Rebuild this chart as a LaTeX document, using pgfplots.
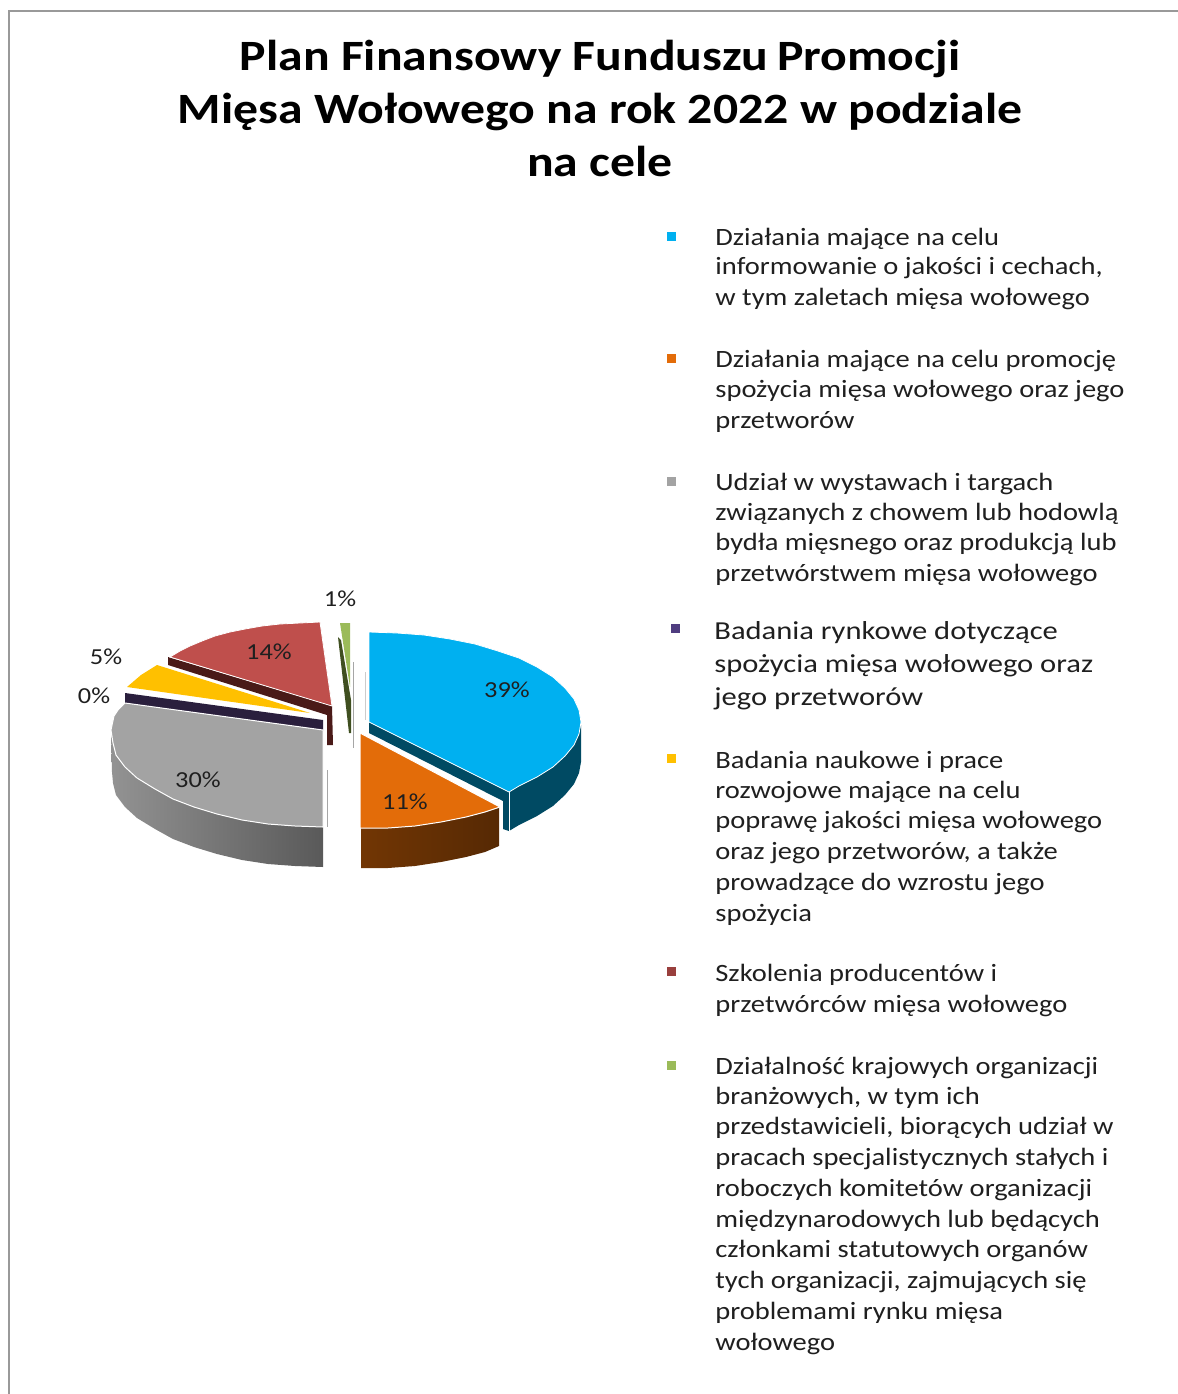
\documentclass[border=0pt]{standalone}
\usepackage{fontspec}
\setmainfont{Carlito}
\usepackage{graphicx}
\usepackage{pgfplots}
\pgfplotsset{compat=1.18}
\definecolor{cblue}{HTML}{00B0F0}
\definecolor{cblued}{HTML}{004A63}
\definecolor{corange}{HTML}{E36C09}
\definecolor{cgrey}{HTML}{A3A3A3}
\definecolor{cpurple}{HTML}{2A1F3D}
\definecolor{ckeypurple}{HTML}{4F3D80}
\definecolor{cyellow}{HTML}{FFC000}
\definecolor{cred}{HTML}{BF4F4C}
\definecolor{credd}{HTML}{4A1A18}
\definecolor{cgreen}{HTML}{9BBB59}
\definecolor{cgreend}{HTML}{3F4F20}
\definecolor{txt}{HTML}{1F1F1F}
\newcommand\ttl[2]{\node[anchor=base,font=\fontsize{21.7}{26}\bfseries\selectfont] at (axis cs:600,#1) {\scalebox{1.15}[1]{#2}};}
\newcommand\leg[2]{\node[anchor=base west,inner sep=0pt,text=txt,font=\fontsize{12.5}{15}\selectfont] at (axis cs:715,#1) {\scalebox{1.145}[1]{#2}};}
\newcommand\legw[2]{\node[anchor=base west,inner sep=0pt,text=txt,font=\fontsize{13}{15}\selectfont] at (axis cs:714,#1) {\scalebox{1.18}[1]{#2}};}
\newcommand\pct[2]{\node[text=txt,inner sep=0pt,font=\fontsize{11.5}{14}\selectfont] at (axis cs:#1) {\scalebox{1.15}[1]{#2}};}
\begin{document}
\begin{tikzpicture}
\begin{axis}[
    scale only axis,
    width=589bp, height=697bp,
    xmin=0, xmax=1178,
    ymin=0, ymax=1394,
    y dir=reverse,
    axis lines=none,
]
% keeps the page at the full size of the axis
\addplot[draw=none] coordinates {(0,0)(1178,0)(1178,1394)(0,1394)} --cycle;
% page frame
\addplot[draw=gray!80, line width=0.8pt] coordinates {(9,1394)(9,11)(1178,11)};

% green slice
\addplot[fill=cgreen, draw=none] coordinates {(340,623)(350,623)(350,687)} --cycle;
\addplot[fill=cgreend, draw=none] coordinates {(338,637)(341,640)(351,700)(351,733)(349,733)} --cycle;
\addplot[draw=gray!70, line width=0.5pt] coordinates {(353,662)(353,748)};
\addplot[draw=gray!40, line width=0.5pt] coordinates {(365,672)(365,720)};

% red slice
\addplot[fill=credd, draw=none] coordinates {(168,657)(332,706)(333,745)(327,745)(327,715)(168,665)} --cycle;
\addplot[fill=cred, draw=white, line width=0.4pt] coordinates {(170,657)(180,651)(190,646)(202,641)(215,636)(230,632)(245,629)(262,626)(280,624)(300,623)(320,622)(332,706)} --cycle;

% yellow slice
\addplot[fill=cyellow, draw=none] coordinates {(127,687)(134,681)(141,675)(149,670)(157,665)(310,713)} --cycle;

% purple slice
\addplot[fill=cpurple, draw=none] coordinates {(125,693)(323,720)(323,731)(125,703)} --cycle;

% grey slice
\addplot[left color=gray!85, right color=black!65, draw=none] coordinates {(111,735)(113,743)(116,755)(125,767)(137,778)(155,789)(173,799)(194,807)(217,814)(242,820)(268,824)(295,826)(323,827)(323,867)(295,866)(268,864)(242,860)(217,854)(194,847)(173,839)(155,829)(137,818)(125,807)(116,795)(113,783)(112,772)} --cycle;
\addplot[fill=cgrey, draw=white, line width=0.5pt] coordinates {(125,703)(118,710)(114,716)(111,730)(113,743)(116,755)(125,767)(137,778)(155,789)(173,799)(194,807)(217,814)(242,820)(268,824)(295,826)(323,827)(323,730)} --cycle;
\addplot[draw=gray!70, line width=0.5pt] coordinates {(327,770)(327,827)};

% blue slice
\addplot[fill=cblued, draw=none] coordinates {(369,722)(509,792)(509,831)(503,829)(503,801)(369,733)} --cycle;
\addplot[fill=cblued, draw=none] coordinates {(581,725)(579,734)(574,745)(565,756)(553,767)(537,777)(519,786)(509,792)(509,831)(519,825)(537,816)(553,806)(565,795)(574,784)(579,773)(581,762)} --cycle;
\addplot[draw=white, line width=0.5pt] coordinates {(509,792)(509,831)};
\addplot[fill=cblue, draw=white, line width=0.4pt] coordinates {(369,632)(397,633)(424,635)(450,639)(475,644)(498,651)(519,658)(537,667)(553,677)(565,688)(574,699)(579,710)(581,722)(579,734)(574,745)(565,756)(553,767)(537,777)(519,786)(509,792)(369,722)} --cycle;

% orange slice
\addplot[left color=corange!50!black, right color=corange!38!black, draw=none] coordinates {(361,828)(388,828)(415,826)(441,822)(466,817)(485,812)(499,807)(499,846)(485,852)(466,857)(441,862)(415,866)(388,868)(361,868)} --cycle;
\addplot[fill=corange, draw=white, line width=0.5pt] coordinates {(360,733)(500,807)(485,812)(466,817)(441,822)(415,826)(388,828)(360,828)} --cycle;

% legend keys
\addplot[only marks, mark=square*, mark size=2bp, color=cblue] coordinates {(671,236)};
\addplot[only marks, mark=square*, mark size=2bp, color=corange] coordinates {(671,358)};
\addplot[only marks, mark=square*, mark size=2bp, color=cgrey] coordinates {(671,481)};
\addplot[only marks, mark=square*, mark size=2bp, color=ckeypurple] coordinates {(675,628)};
\addplot[only marks, mark=square*, mark size=2bp, color=cyellow] coordinates {(671,758)};
\addplot[only marks, mark=square*, mark size=2bp, color=cred!80!black] coordinates {(671,971)};
\addplot[only marks, mark=square*, mark size=2bp, color=cgreen] coordinates {(671,1065)};

\ttl{70}{Plan Finansowy Funduszu\hspace{-1pt} Promocji}
\ttl{123}{Mięsa Wołowego na rok 2022 w podziale}
\ttl{176}{na cele}

\pct{507,690}{39\%}
\pct{405,802}{11\%}
\pct{198,780}{30\%}
\pct{269,652}{14\%}
\pct{106,657}{5\%}
\pct{94,696}{0\%}
\pct{340,599}{1\%}

\leg{245}{Działania mające na celu}
\leg{274}{informowanie o jakości i cechach,}
\leg{305}{w tym zaletach mięsa wołowego}
\leg{367}{Działania mające na celu promocję}
\leg{397}{spożycia mięsa wołowego oraz jego}
\leg{428}{przetworów}
\leg{490}{Udział w wystawach i targach}
\leg{520}{związanych z chowem lub hodowlą}
\leg{550}{bydła mięsnego oraz produkcją lub}
\leg{581}{przetwórstwem mięsa wołowego}
\legw{639}{Badania rynkowe dotyczące}
\legw{672}{spożycia mięsa wołowego oraz}
\legw{705}{jego przetworów}
\leg{768}{Badania naukowe i prace}
\leg{798}{rozwojowe mające na celu}
\leg{828}{poprawę jakości mięsa wołowego}
\leg{859}{oraz jego przetworów, a także}
\leg{890}{prowadzące do wzrostu jego}
\leg{921}{spożycia}
\leg{981}{Szkolenia producentów i}
\leg{1012}{przetwórców mięsa wołowego}
\leg{1074}{Działalność krajowych organizacji}
\leg{1104}{branżowych, w tym ich}
\leg{1134}{przedstawicieli, biorących udział w}
\leg{1165}{pracach specjalistycznych stałych i}
\leg{1196}{roboczych komitetów organizacji}
\leg{1227}{międzynarodowych lub będących}
\leg{1257}{członkami statutowych organów}
\leg{1288}{tych organizacji, zajmujących się}
\leg{1319}{problemami rynku mięsa}
\leg{1350}{wołowego}
\end{axis}
\end{tikzpicture}
\end{document}
